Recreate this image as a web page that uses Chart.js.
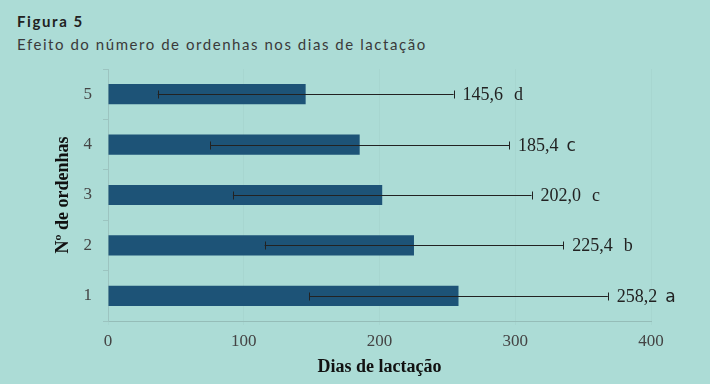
<!DOCTYPE html>
<html>
<head>
<meta charset="utf-8">
<script src="https://cdn.jsdelivr.net/npm/chart.js@4"></script>
<style>
  html, body { margin: 0; padding: 0; background: #acdcd6; }
  #wrap { position: relative; width: 710px; height: 384px; }
  #fig { position: absolute; left: 17px; top: 12px; font: bold 15px Lato, sans-serif; letter-spacing: 1.6px; color: #222; }
  #sub { position: absolute; left: 17px; top: 35px; font: 15px Lato, sans-serif; letter-spacing: 1.55px; color: #3a3a3a; }
  canvas { position: absolute; left: 0; top: 0; }
</style>
</head>
<body>
<div id="wrap">
  <div id="fig">Figura 5</div>
  <div id="sub">Efeito do número de ordenhas nos dias de lactação</div>
  <canvas id="chart" width="710" height="384"></canvas>
</div>
<script>
// dados (de cima para baixo)
const ordenhas = ['5', '4', '3', '2', '1'];
const diasLactacao = [145.6, 185.4, 202.0, 225.4, 258.2];
const desvio = [109, 110, 110, 110, 110];
const letras = ['d', 'c', 'c', 'b', 'a'];
const xTicks = [0, 100, 200, 300, 400];

// algumas letras no original estao noutra fonte
const letraSans = [false, true, false, false, true];

const serif = '"Liberation Serif", "Times New Roman", serif';

// barras de erro e rotulos
const errorBars = {
    id: 'errorBars',
    afterDatasetsDraw(chart) {
        const ctx = chart.ctx;
        const x = chart.scales.x;
        const y = chart.scales.y;
        ctx.save();
        ctx.strokeStyle = '#222';
        ctx.lineWidth = 1;
        diasLactacao.forEach((v, i) => {
            const yc = Math.round(y.getPixelForValue(i)) + 0.5;
            const x1 = x.getPixelForValue(v - desvio[i]);
            const x2 = x.getPixelForValue(v + desvio[i]);
            ctx.beginPath();
            ctx.moveTo(x1, yc); ctx.lineTo(x2, yc);
            ctx.moveTo(Math.round(x1) + 0.5, yc - 4); ctx.lineTo(Math.round(x1) + 0.5, yc + 4);
            ctx.moveTo(Math.round(x2) + 0.5, yc - 4); ctx.lineTo(Math.round(x2) + 0.5, yc + 4);
            ctx.stroke();

            const txt = v.toFixed(1).replace('.', ',');
            ctx.fillStyle = '#222';
            ctx.textBaseline = 'middle';
            ctx.textAlign = 'left';
            ctx.font = '18px ' + serif;
            const tx = x2 + 9;
            ctx.fillText(txt, tx, yc + 1);
            const w = ctx.measureText(txt).width;
            if (letraSans[i]) {
                ctx.font = '17px "DejaVu Sans", sans-serif';
                ctx.fillText(letras[i], tx + w + 8, yc + 1);
            } else {
                ctx.font = '18px ' + serif;
                ctx.fillText(letras[i], tx + w + 11, yc + 1);
            }
        });
        ctx.restore();
    }
};

const ctx = document.getElementById('chart').getContext('2d');
const chart = new Chart(ctx, {
    type: 'bar',
    data: {
        labels: ordenhas,
        datasets: [{
            data: diasLactacao,
            backgroundColor: '#1d5377',
            borderWidth: 0,
            categoryPercentage: 1,
            barPercentage: 0.4
        }]
    },
    options: {
        indexAxis: 'y',
        responsive: false,
        animation: false,
        layout: { padding: { left: 53, top: 69, right: 59, bottom: 6 } },
        plugins: {
            legend: { display: false },
            tooltip: { enabled: false }
        },
        scales: {
            x: {
                min: 0,
                max: 400,
                afterBuildTicks: (s) => { s.ticks = xTicks.map(v => ({ value: v })); },
                afterFit: (s) => { s.height = 57; },
                grid: { color: 'rgba(150,195,190,0.25)', tickLength: 4 },
                border: { color: '#95bdb8' },
                ticks: { color: '#444', font: { family: serif, size: 17 }, padding: 6 },
                title: {
                    display: true,
                    text: 'Dias de lactação',
                    color: '#111',
                    font: { family: serif, size: 18, weight: 'bold' },
                    padding: 0
                }
            },
            y: {
                afterFit: (s) => { s.width = 55; },
                grid: { drawOnChartArea: false, color: '#9cc4c0', tickLength: 5, offset: true },
                border: { color: '#9cc4c0' },
                ticks: { color: '#444', font: { family: serif, size: 17 }, padding: 11 },
                title: {
                    display: true,
                    text: 'Nº de ordenhas',
                    color: '#111',
                    font: { family: serif, size: 18, weight: 'bold' },
                    padding: 0
                }
            }
        }
    },
    plugins: [errorBars]
});
</script>
</body>
</html>
